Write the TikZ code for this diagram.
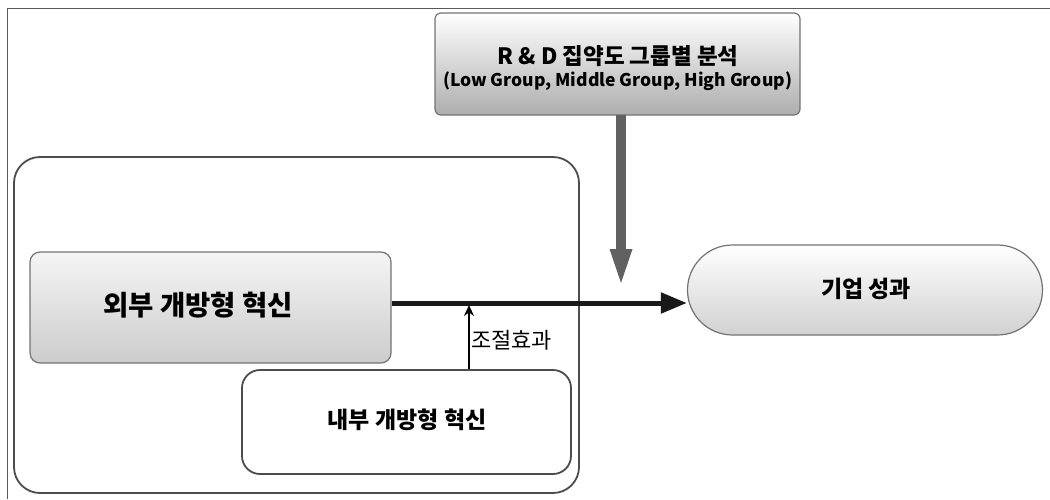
\documentclass[tikz,border=0pt]{standalone}
\usepackage{fontspec}
\setmainfont{Noto Sans CJK KR}
\usetikzlibrary{arrows.meta,shapes.misc}
\tikzset{
  frameline/.style={draw=black!65,line width=1pt},
  boxline/.style={draw=black!70,line width=1.8pt},
  graybox/.style={draw=black!55,line width=1.2pt,top color=white,bottom color=black!32,rounded corners=6pt},
  extbox/.style={draw=black!55,line width=1.2pt,top color=black!4,bottom color=black!20,rounded corners=10pt},
  intbox/.style={draw=black!70,line width=1.8pt,fill=white,rounded corners=18pt},
  perfbox/.style={draw=black!55,line width=1.2pt,top color=white,bottom color=black!18,rounded rectangle},
  mainarrow/.style={line width=5pt,black!90,-{Triangle[length=26pt,width=20pt]}},
  grayarrow/.style={line width=10pt,black!62,-{Triangle[length=40pt,width=19pt]}},
  modarrow/.style={line width=2pt,black,-{Stealth[length=11pt,width=10pt]}},
  ktext/.style={font=\bfseries\fontsize{23}{26}\selectfont},
}
\begin{document}
\begin{tikzpicture}[x=1pt,y=-1pt]
\useasboundingbox (0,0) rectangle (1050,499);
% frame (top and left edges)
\coordinate (ftl) at (7,8);
\coordinate (ftr) at (1050,8);
\coordinate (fbl) at (7,499);
\draw[frameline] (ftr) -- (ftl) -- (fbl);
% big container
\draw[boxline,rounded corners=26pt] (14,157) rectangle (579,493);
% nodes
\node[graybox,minimum width=365pt,minimum height=102pt,inner sep=0pt] (rd) at (617.5,64) {};
\node[font=\bfseries\fontsize{22.5}{25}\selectfont] (rdt) at (618,56) {R \& D 집약도 그룹별 분석};
\node[font=\bfseries\fontsize{17.5}{20}\selectfont] (rds) at (617.5,81) {(Low Group, Middle Group, High Group)};
\node[extbox,minimum width=361pt,minimum height=111pt,inner sep=0pt] (ext) at (210.5,307.5) {};
\node[ktext,font=\bfseries\fontsize{27.5}{30}\selectfont] (extt) at (198,305) {외부 개방형 혁신};
\node[intbox,minimum width=329pt,minimum height=104pt,inner sep=0pt] (int) at (406.5,422) {};
\node[ktext] (intt) at (407,420) {내부 개방형 혁신};
\node[perfbox,minimum width=355pt,minimum height=90pt,inner sep=0pt] (perf) at (865,290) {};
\node[ktext] (perft) at (866,289) {기업 성과};
% arrows
\draw[mainarrow] ([yshift=4.5pt]ext.east) -- ([yshift=4.5pt]ext.east -| perf.west);
\coordinate (gtop) at (621,115);
\coordinate (gend) at (621,289);
\draw[grayarrow] (gtop) -- (gend);
\coordinate (m) at (469,305);
\draw[modarrow] (m |- int.north) -- (m);
\node[anchor=west,inner sep=0pt,font=\fontsize{22}{25}\selectfont] (lab) at (471,340) {조절효과};
\end{tikzpicture}
\end{document}
